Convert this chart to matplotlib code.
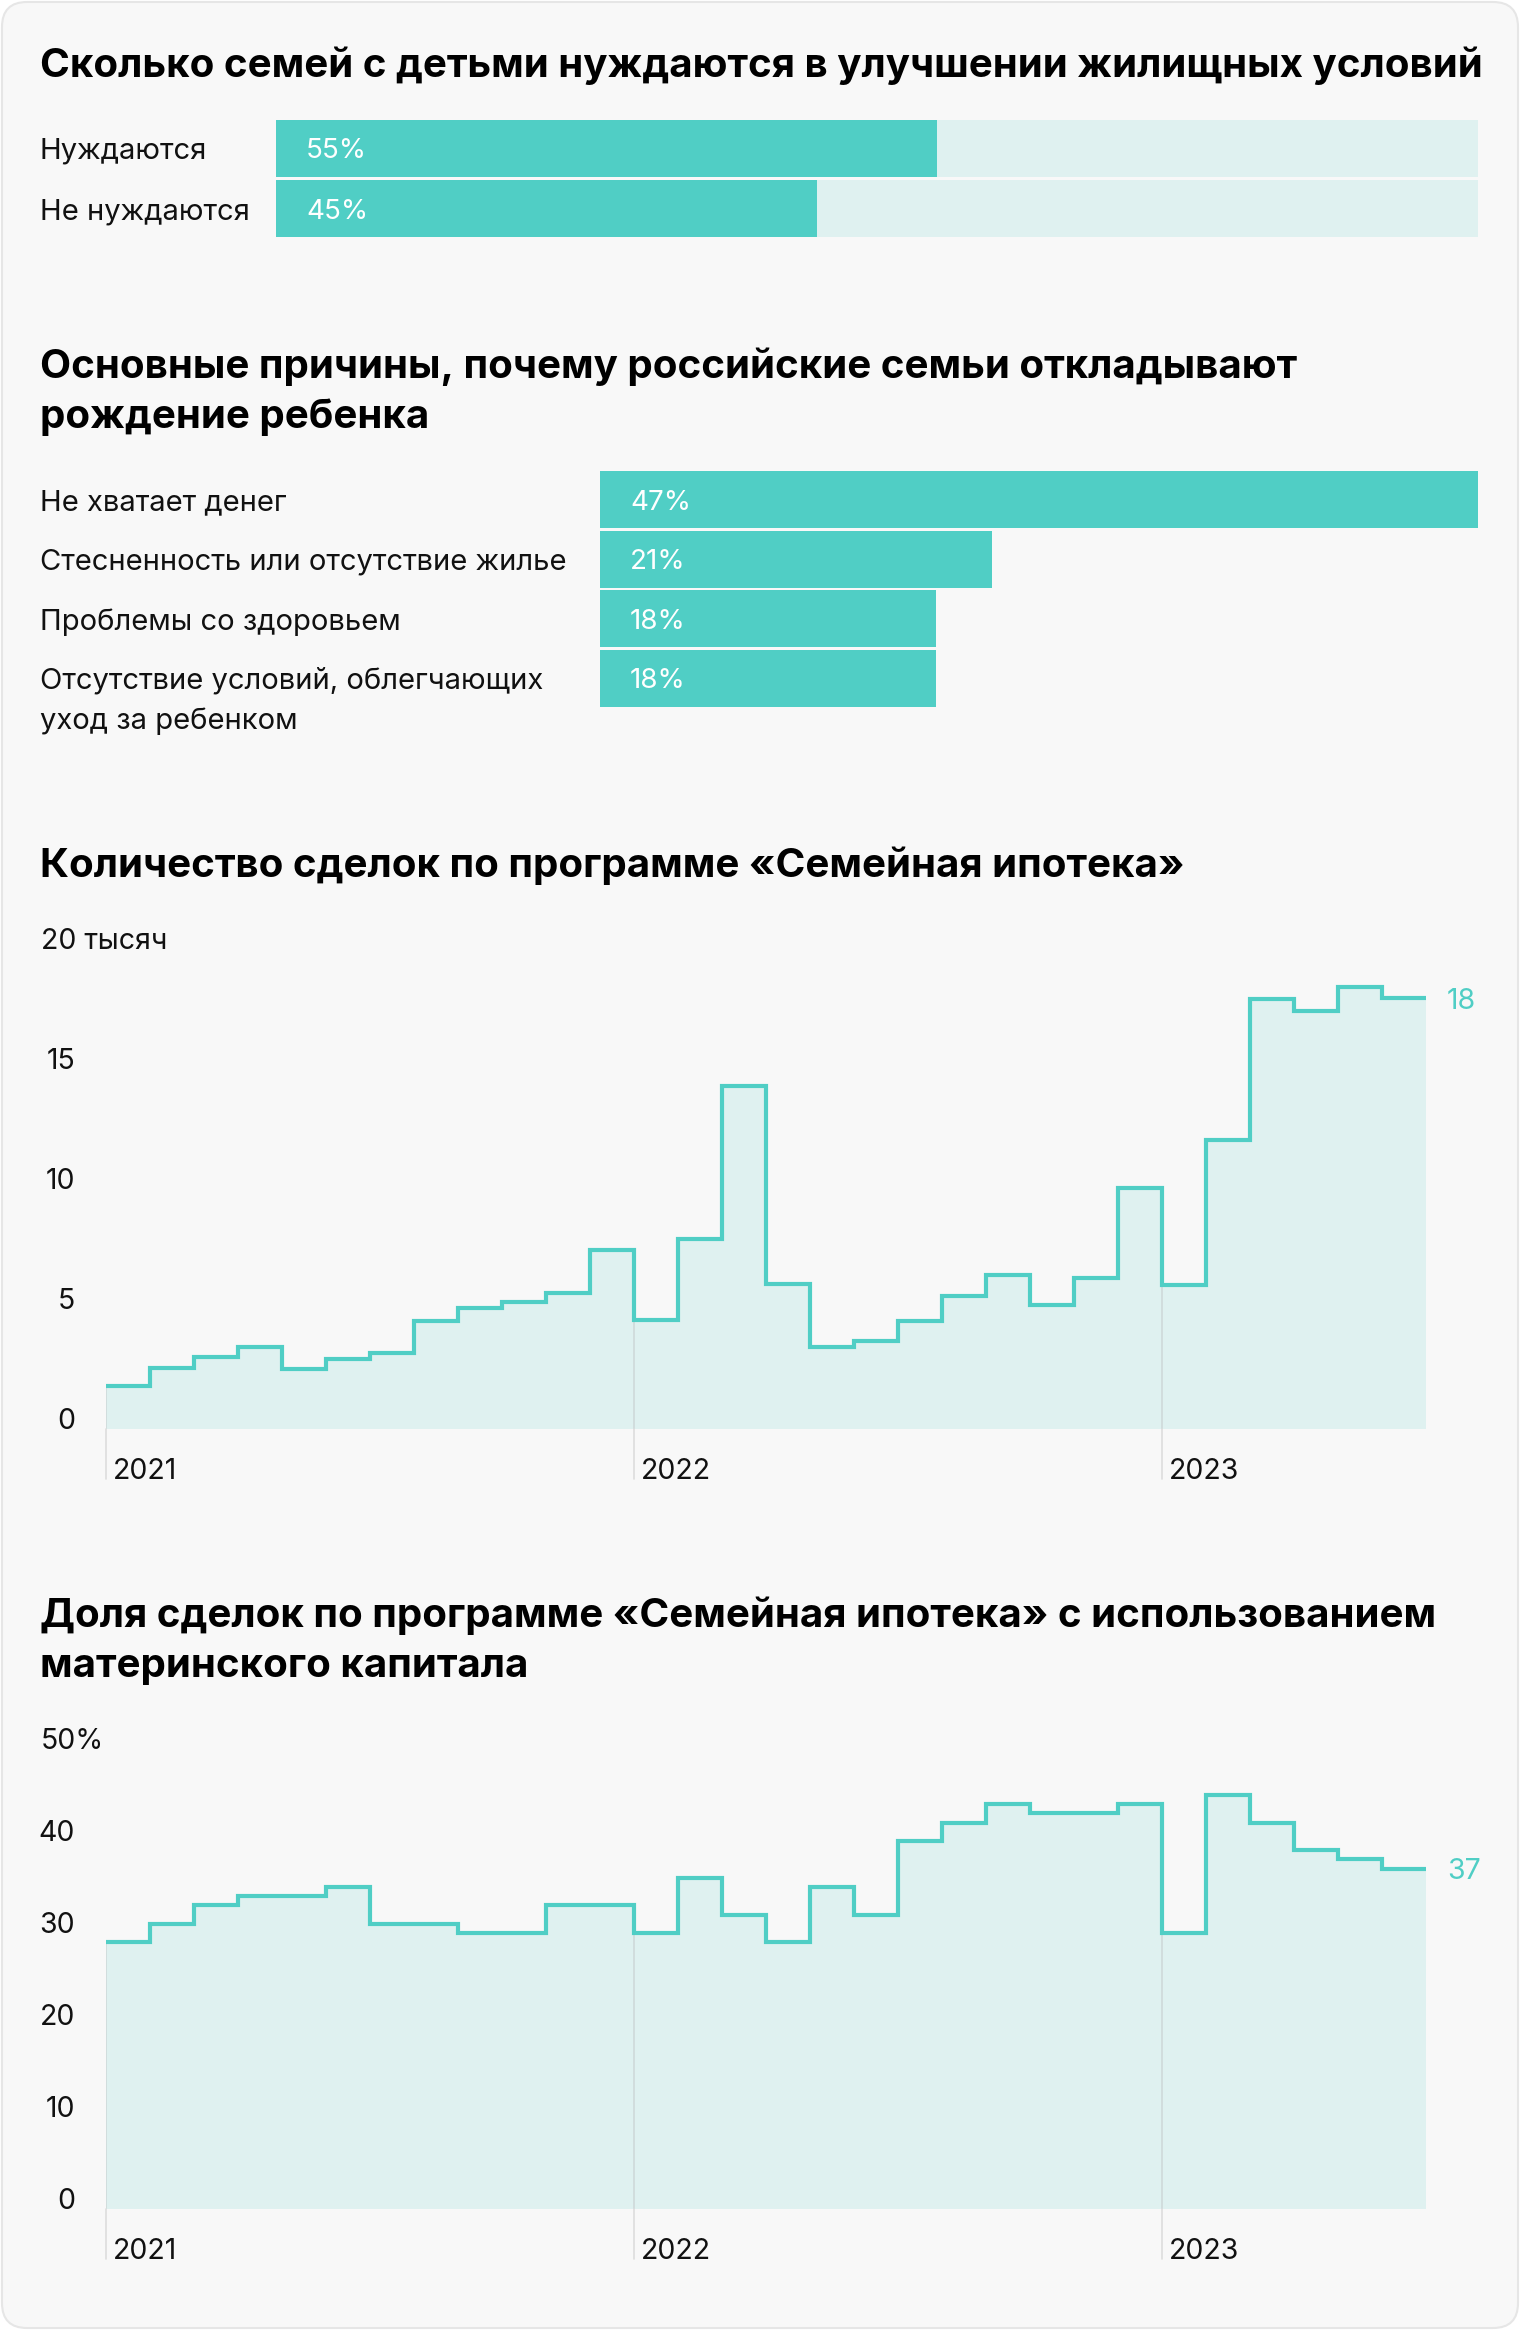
import numpy as np
import matplotlib.pyplot as plt
from matplotlib.patches import FancyBboxPatch

plt.rcParams['font.family'] = ['Inter', 'DejaVu Sans']

W, H, DPI = 1520, 2330, 100

TEAL = '#50cec5'
PALE = '#dff1f0'
BG = '#f8f8f8'
GRID = '#cfdada'
TEXT = '#111111'

# --- data
need_labels = ['Нуждаются', 'Не нуждаются']
need_values = [55, 45]

reason_labels = ['Не хватает денег',
                 'Стесненность или отсутствие жилье',
                 'Проблемы со здоровьем',
                 'Отсутствие условий, облегчающих\nуход за ребенком']
reason_values = [47, 21, 18, 18]

# monthly, Jan 2021 - Jun 2023, thousands
deals = [1.8, 2.55, 3.0, 3.4, 2.5, 2.9, 3.15, 4.5, 5.05, 5.3, 5.65, 7.45,
         4.55, 7.9, 14.3, 6.05, 3.4, 3.65, 4.5, 5.55, 6.4, 5.15, 6.3, 10.05,
         6.0, 12.05, 17.9, 17.4, 18.4, 17.95]
deals_ticks = [0, 5, 10, 15]
deals_top = '20 тысяч'

# share of deals with maternity capital, %
matcap = [29, 31, 33, 34, 34, 35, 31, 31, 30, 30, 33, 33,
          30, 36, 32, 29, 35, 32, 40, 42, 44, 43, 43, 44,
          30, 45, 42, 39, 38, 37]
matcap_ticks = [0, 10, 20, 30, 40]
matcap_top = '50%'

years = ['2021', '2022', '2023']
year_start = [0, 12, 24]

fig = plt.figure(figsize=(W / DPI, H / DPI), dpi=DPI)
fig.patch.set_facecolor('white')
card = FancyBboxPatch((0.02, 0.02), W / DPI - 0.04, H / DPI - 0.04,
                      boxstyle='round,pad=0,rounding_size=0.25',
                      transform=fig.dpi_scale_trans,
                      facecolor=BG, edgecolor='#e6e6e6', linewidth=1.5,
                      zorder=-10)
fig.patches.append(card)


def add_ax(x0, y0, x1, y1):
    ax = fig.add_axes([x0 / W, 1 - y1 / H, (x1 - x0) / W, (y1 - y0) / H])
    ax.set_axis_off()
    return ax


def title(lines, baselines):
    for line, b in zip(lines, baselines):
        fig.text(40 / W, 1 - b / H, line, fontsize=29, fontweight='bold',
                 color='black', va='baseline', ha='left')


def label_bars(ax, labels, values, left_px):
    for i, (lab, v) in enumerate(zip(labels, values)):
        for k, part in enumerate(lab.split('\n')):
            ax.annotate(part, xy=(0, i), xycoords='data',
                        xytext=(-left_px, -40 * k), textcoords='offset pixels',
                        ha='left', va='center_baseline',
                        fontsize=21, color=TEXT, annotation_clip=False)
        ax.annotate(f'{v}%', xy=(0, i), xycoords='data', xytext=(30, 0),
                    textcoords='offset pixels', ha='left', va='center_baseline',
                    fontsize=20, color='white')


# ---- chart 1
title(['Сколько семей с детьми нуждаются в улучшении жилищных условий'], [77])
ax1 = add_ax(276, 118, 1478, 239)
y1 = np.arange(len(need_values))
ax1.barh(y1, [100] * len(need_values), height=0.95, color=PALE)
ax1.barh(y1, need_values, height=0.95, color=TEAL)
ax1.set_xlim(0, 100)
ax1.set_ylim(len(need_values) - 0.5, -0.5)
label_bars(ax1, need_labels, need_values, 236)

# ---- chart 2
title(['Основные причины, почему российские семьи откладывают',
       'рождение ребенка'], [378, 428])
ax2 = add_ax(600, 470, 1478, 708)
y2 = np.arange(len(reason_values))
ax2.barh(y2, reason_values, height=0.95, color=TEAL)
ax2.set_xlim(0, max(reason_values))
ax2.set_ylim(len(reason_values) - 0.5, -0.5)
label_bars(ax2, reason_labels, reason_values, 560)


def step_chart(ax, values, ticks, top, top_val, end_label):
    edges = np.arange(len(values) + 1)
    ax.stairs(values, edges, baseline=0, fill=True, color=PALE, zorder=1)
    ax.stairs(values, edges, baseline=None, color=TEAL, linewidth=3.0, zorder=3)
    ax.set_xlim(0, len(values))
    ax.set_ylim(0, top_val)
    for lab, s in zip(years, year_start):
        # year divider: over the fill, then below the baseline
        ax.plot([s, s], [values[s], 0], color=GRID, lw=1.2, zorder=2)
        ax.annotate('', xy=(s, 0), xycoords='data', xytext=(0, -50),
                    textcoords='offset pixels', annotation_clip=False,
                    arrowprops=dict(arrowstyle='-', color='#dddddd', lw=1.2,
                                    shrinkA=0, shrinkB=0))
        ax.annotate(lab, xy=(s, 0), xycoords='data', xytext=(7, -50),
                    textcoords='offset pixels', ha='left', va='baseline',
                    fontsize=20.5, color=TEXT, annotation_clip=False)
    for t in ticks:
        ax.annotate(str(t), xy=(0, t), xycoords='data', xytext=(-31, 0),
                    textcoords='offset pixels', ha='right', va='baseline',
                    fontsize=20.5, color=TEXT, annotation_clip=False)
    ax.annotate(top, xy=(0, top_val), xycoords='data', xytext=(-65, 0),
                textcoords='offset pixels', ha='left', va='baseline',
                fontsize=20.5, color=TEXT, annotation_clip=False)
    ax.annotate(end_label, xy=(len(values), values[-1]), xycoords='data',
                xytext=(21, 0), textcoords='offset pixels', ha='left',
                va='center_baseline', fontsize=20.5, color=TEAL,
                annotation_clip=False)


# ---- chart 3
title(['Количество сделок по программе «Семейная ипотека»'], [877])
ax3 = add_ax(106, 949, 1426, 1429)
step_chart(ax3, deals, deals_ticks, deals_top, 20, '18')

# ---- chart 4
title(['Доля сделок по программе «Семейная ипотека» с использованием',
       'материнского капитала'], [1627, 1677])
ax4 = add_ax(106, 1749, 1426, 2209)
step_chart(ax4, matcap, matcap_ticks, matcap_top, 50, '37')

fig.savefig('out.png', dpi=DPI, facecolor=fig.get_facecolor())
